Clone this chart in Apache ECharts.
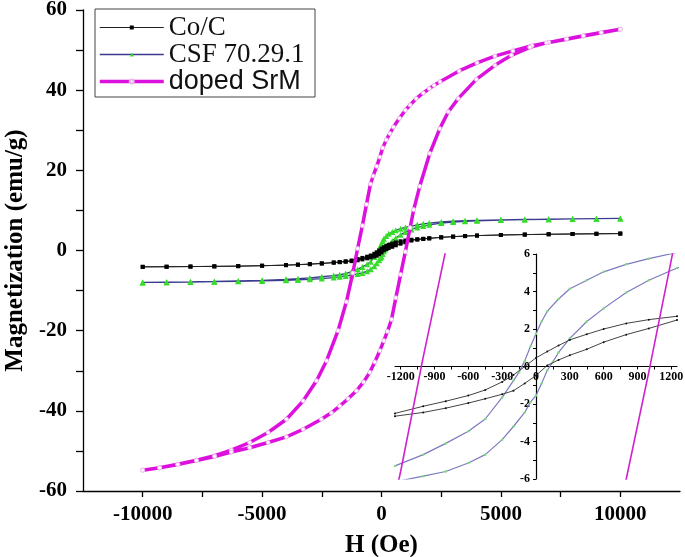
<!DOCTYPE html>
<html><head><meta charset="utf-8">
<script src="https://cdn.jsdelivr.net/npm/echarts@6/dist/echarts.min.js"></script>
<style>html,body{margin:0;padding:0;background:#fff}#c{width:685px;height:557px}</style>
</head><body><div id="c"></div>
<script>
// ---- Co/C (black) ----
const coUpH = [10000, 9000, 8000, 7000, 6000, 5000, 4000, 3500, 3000, 2500, 2000, 1750, 1500, 1250, 1000, 800, 600, 450, 300, 200, 100, 0, -100, -200, -300, -450, -600, -800, -1000, -1250, -1500, -1750, -2000, -2500, -3000, -3500, -4000, -5000, -6000, -7000, -8000, -9000, -10000];
const coUpM = [4.22, 4.17, 4.12, 4.05, 3.97, 3.87, 3.72, 3.6, 3.45, 3.28, 3.05, 2.92, 2.8, 2.68, 2.5, 2.3, 2.0, 1.72, 1.42, 1.12, 0.8, 0.46, 0.0, -0.45, -0.82, -1.25, -1.55, -1.85, -2.12, -2.5, -2.7, -2.86, -2.98, -3.2, -3.38, -3.52, -3.64, -3.8, -3.9, -3.96, -4.01, -4.05, -4.08];
const coLowH = [-10000, -9000, -8000, -7000, -6000, -5000, -4000, -3500, -3000, -2500, -2000, -1750, -1500, -1250, -1000, -800, -600, -450, -300, -200, -100, 0, 100, 200, 300, 450, 600, 800, 1000, 1250, 1500, 1750, 2000, 2500, 3000, 3500, 4000, 5000, 6000, 7000, 8000, 9000, 10000];
const coLowM = [-4.08, -4.05, -4.01, -3.96, -3.9, -3.8, -3.66, -3.55, -3.42, -3.26, -3.04, -2.92, -2.8, -2.65, -2.45, -2.22, -1.95, -1.72, -1.48, -1.29, -0.9, -0.48, 0.06, 0.35, 0.6, 0.92, 1.3, 1.7, 2.03, 2.48, 2.72, 2.88, 3.02, 3.28, 3.46, 3.6, 3.72, 3.87, 3.97, 4.05, 4.12, 4.17, 4.22];

// ---- CSF 70.29.1 (green / blue) ----
const csfUpH = [10000, 9000, 8000, 7000, 6000, 5000, 4000, 3500, 3000, 2500, 2000, 1750, 1500, 1250, 1000, 800, 600, 450, 300, 200, 100, 50, 0, -50, -100, -150, -200, -300, -450, -600, -800, -1000, -1250, -1500, -1750, -2000, -2500, -3000, -3500, -4000, -5000, -6000, -7000, -8000, -9000, -10000];
const csfUpM = [8.0, 7.95, 7.9, 7.82, 7.75, 7.65, 7.52, 7.42, 7.3, 7.12, 6.85, 6.65, 6.4, 6.08, 5.75, 5.45, 5.05, 4.6, 4.15, 3.6, 2.95, 2.4, 1.75, 1.05, 0.3, -0.3, -0.75, -1.65, -2.8, -3.45, -4.1, -4.7, -5.3, -5.75, -6.05, -6.25, -6.55, -6.85, -7.05, -7.2, -7.45, -7.6, -7.72, -7.82, -7.9, -7.97];
const csfLowH = [-10000, -9000, -8000, -7000, -6000, -5000, -4000, -3500, -3000, -2500, -2000, -1750, -1500, -1250, -1000, -800, -600, -450, -300, -200, -100, -50, 0, 50, 100, 150, 200, 300, 450, 600, 800, 1000, 1250, 1500, 1750, 2000, 2500, 3000, 3500, 4000, 5000, 6000, 7000, 8000, 9000, 10000];
const csfLowM = [-7.97, -7.92, -7.86, -7.78, -7.7, -7.6, -7.45, -7.35, -7.2, -7.0, -6.75, -6.55, -6.35, -6.15, -5.85, -5.6, -5.15, -4.7, -3.9, -3.2, -2.45, -1.9, -1.55, -0.9, -0.2, 0.25, 0.75, 1.5, 2.4, 3.1, 3.95, 4.6, 5.25, 5.75, 6.1, 6.4, 6.85, 7.1, 7.28, 7.42, 7.6, 7.72, 7.8, 7.88, 7.95, 8.0];

// ---- doped SrM (magenta) ----
const srmUpH = [10000, 9200, 8450, 7750, 7000, 6300, 5500, 4750, 4000, 3250, 2450, 2200, 2000, 1750, 1450, 1200, 1000, 750, 500, 350, 200, 50, -70, -200, -350, -460, -630, -800, -1000, -1200, -1470, -1820, -2300, -2720, -3280, -3980, -4750, -5520, -6290, -6990, -7750, -8530, -9290, -10000];
const srmUpM = [55.2, 54.3, 53.5, 52.7, 51.9, 51.1, 49.8, 48.5, 46.8, 44.8, 42.1, 41.2, 40.4, 39.3, 37.9, 36.3, 35.0, 33.0, 30.8, 29.2, 27.6, 25.6, 23.3, 21.0, 18.6, 16.6, 11.5, 6.2, 0.5, -5.6, -12.8, -20.0, -27.5, -32.5, -37.5, -42.1, -45.4, -47.9, -49.8, -51.2, -52.3, -53.3, -54.2, -54.8];
const srmLowH = [-10000, -9290, -8530, -7750, -6990, -6290, -5520, -4750, -3980, -3280, -2520, -2100, -1750, -1400, -1050, -750, -490, -280, -70, 100, 250, 420, 600, 800, 1000, 1200, 1350, 1600, 2020, 2440, 2800, 3210, 3970, 4750, 5440, 6210, 6910, 7750, 8450, 9200, 10000];
const srmLowM = [-54.8, -54.2, -53.4, -52.4, -51.4, -50.3, -49.2, -47.9, -46.5, -44.6, -42.1, -40.5, -38.8, -37.0, -35.0, -32.8, -30.4, -27.8, -25.0, -22.5, -20.2, -17.2, -11.8, -6.0, -0.3, 5.7, 10.2, 16.0, 24.2, 30.4, 34.6, 37.9, 42.7, 46.2, 48.7, 50.7, 51.8, 52.8, 53.6, 54.4, 55.2];

// ---- axis ticks / labels ----
const mainXTicks = [-10000, -7500, -5000, -2500, 0, 2500, 5000, 7500, 10000];
const mainXLabels = [-10000, -5000, 0, 5000, 10000];
const mainYLabels = [-60, -40, -20, 0, 20, 40, 60];
const insetXTicks = [-1200, -1050, -900, -750, -600, -450, -300, -150, 0, 150, 300, 450, 600, 750, 900, 1050, 1200];
const insetXLabels = [-1200, -900, -600, -300, 0, 300, 600, 900, 1200];
const insetYTicks = [-6, -5, -4, -3, -2, -1, 0, 1, 2, 3, 4, 5, 6];
const insetYLabels = [-6, -4, -2, 0, 2, 4, 6];
const legendNames = ['Co/C', 'CSF 70.29.1', 'doped SrM'];

function loop(h1, m1, h2, m2) {
  const out = [];
  for (let i = 0; i < h1.length; i++) out.push([h1[i], m1[i]]);
  for (let i = 0; i < h2.length; i++) out.push([h2[i], m2[i]]);
  return out;
}
const coData = loop(coUpH, coUpM, coLowH, coLowM);
const csfData = loop(csfUpH, csfUpM, csfLowH, csfLowM);
const srmData = loop(srmUpH, srmUpM, srmLowH, srmLowM);

const SERIF = "'Liberation Serif','Times New Roman',serif";
const SANS = "'Liberation Sans',Arial,sans-serif";
const plain = function (v) { return String(v); };

// inset geometry
const IN_LEFT = 395, IN_TOP = 254, IN_W = 282, IN_H = 225;

const chart = echarts.init(document.getElementById('c'), null, {renderer: 'canvas'});
chart.setOption({
  animation: false,
  backgroundColor: '#ffffff',
  grid: [
    {left: 83, right: 5, top: 10, bottom: 66, outerBoundsMode: 'none', containLabel: false},
    {left: IN_LEFT, top: IN_TOP, width: IN_W, height: IN_H, outerBoundsMode: 'none', containLabel: false}
  ],
  xAxis: [
    {
      gridIndex: 0, type: 'value', min: -12500, max: 12500, interval: 2500,
      axisLine: {onZero: false, lineStyle: {color: '#000', width: 1.3}},
      axisTick: {show: true, length: 6, customValues: mainXTicks, lineStyle: {color: '#000', width: 1.3}},
      axisLabel: {customValues: mainXLabels, formatter: plain, margin: 13, color: '#000', fontFamily: SERIF, fontWeight: 'bold', fontSize: 21},
      splitLine: {show: false},
      name: 'H (Oe)', nameLocation: 'middle', nameGap: 42,
      nameTextStyle: {color: '#000', fontFamily: SERIF, fontWeight: 'bold', fontSize: 25}
    },
    {
      gridIndex: 1, type: 'value', min: -1250, max: 1250, position: 'bottom', offset: -IN_H / 2,
      axisLine: {onZero: false, lineStyle: {color: '#000', width: 1.2}},
      axisTick: {show: true, length: 3, customValues: insetXTicks, lineStyle: {color: '#000', width: 1}},
      axisLabel: {customValues: insetXLabels, formatter: plain, showMinLabel: true, showMaxLabel: true, hideOverlap: false, margin: 4, color: '#000', fontFamily: SERIF, fontWeight: 'bold', fontSize: 12},
      splitLine: {show: false}
    }
  ],
  yAxis: [
    {
      gridIndex: 0, type: 'value', min: -60, max: 60, interval: 10,
      axisLine: {show: true, onZero: false, lineStyle: {color: '#000', width: 1.3}},
      axisTick: {show: true, length: 7, lineStyle: {color: '#000', width: 1.3}},
      axisLabel: {customValues: mainYLabels, formatter: plain, margin: 16, color: '#000', fontFamily: SERIF, fontWeight: 'bold', fontSize: 21},
      splitLine: {show: false},
      name: 'Magnetization (emu/g)', nameLocation: 'middle', nameGap: 52,
      nameTextStyle: {color: '#000', fontFamily: SERIF, fontWeight: 'bold', fontSize: 25}
    },
    {
      gridIndex: 1, type: 'value', min: -6, max: 6, position: 'left', offset: -IN_W / 2,
      axisLine: {show: true, onZero: false, lineStyle: {color: '#000', width: 1.2}},
      axisTick: {show: true, length: 3, customValues: insetYTicks, lineStyle: {color: '#000', width: 1}},
      axisLabel: {customValues: insetYLabels, formatter: plain, showMinLabel: true, showMaxLabel: true, hideOverlap: false, margin: 6, color: '#000', fontFamily: SERIF, fontWeight: 'bold', fontSize: 12},
      splitLine: {show: false}
    }
  ],
  legend: {
    data: [
      {name: legendNames[0], lineStyle: {width: 1}},
      {name: legendNames[1], lineStyle: {width: 1.3}},
      {name: legendNames[2], lineStyle: {width: 3.5}}
    ],
    orient: 'vertical', left: 98, top: 14, padding: 0, itemGap: 0,
    itemWidth: 64, itemHeight: 5,
    formatter: function (name) {
      if (name === legendNames[0]) return '{a|' + name + '}';
      if (name === legendNames[1]) return '{b|' + name + '}';
      return '{c|' + name + '}';
    },
    textStyle: {
      color: '#111',
      rich: {
        a: {fontFamily: SERIF, fontSize: 27, lineHeight: 34, color: '#111'},
        b: {fontFamily: SERIF, fontSize: 27, lineHeight: 32, color: '#111'},
        c: {fontFamily: SANS, fontSize: 27, lineHeight: 20, color: '#111'}
      }
    }
  },
  graphic: [
    {type: 'rect', shape: {x: 95, y: 9, width: 220, height: 88}, style: {fill: 'none', stroke: '#444', lineWidth: 1}, z: 100}
  ],
  series: [
    {
      name: 'CSF 70.29.1', type: 'line', xAxisIndex: 0, yAxisIndex: 0, data: csfData, z: 2,
      symbol: 'triangle', symbolSize: 6,
      lineStyle: {color: '#3b3b8f', width: 1.3},
      itemStyle: {color: '#35dd2a'}
    },
    {
      name: 'Co/C', type: 'line', xAxisIndex: 0, yAxisIndex: 0, data: coData, z: 3,
      symbol: 'rect', symbolSize: 4,
      lineStyle: {color: '#222', width: 1},
      itemStyle: {color: '#000'}
    },
    {
      name: 'doped SrM', type: 'line', xAxisIndex: 0, yAxisIndex: 0, data: srmData, z: 4,
      symbol: 'circle', symbolSize: 4,
      lineStyle: {color: '#dd11dd', width: 3.5},
      itemStyle: {color: '#ffffff', borderColor: '#f0b0f0', borderWidth: 1}
    },
    {
      name: 'Co/C inset', type: 'line', xAxisIndex: 1, yAxisIndex: 1, data: coData, z: 3,
      symbol: 'circle', symbolSize: 2,
      lineStyle: {color: '#444', width: 1},
      itemStyle: {color: '#111'}
    },
    {
      name: 'CSF inset', type: 'line', xAxisIndex: 1, yAxisIndex: 1, data: csfData, z: 2,
      symbol: 'circle', symbolSize: 2.5,
      lineStyle: {color: '#7a7ac0', width: 1.2},
      itemStyle: {color: '#7ddc7d'}
    },
    {
      name: 'SrM inset', type: 'line', xAxisIndex: 1, yAxisIndex: 1, data: srmData, z: 4,
      symbol: 'none',
      lineStyle: {color: '#d020d0', width: 1.6}
    }
  ]
});
</script></body></html>
